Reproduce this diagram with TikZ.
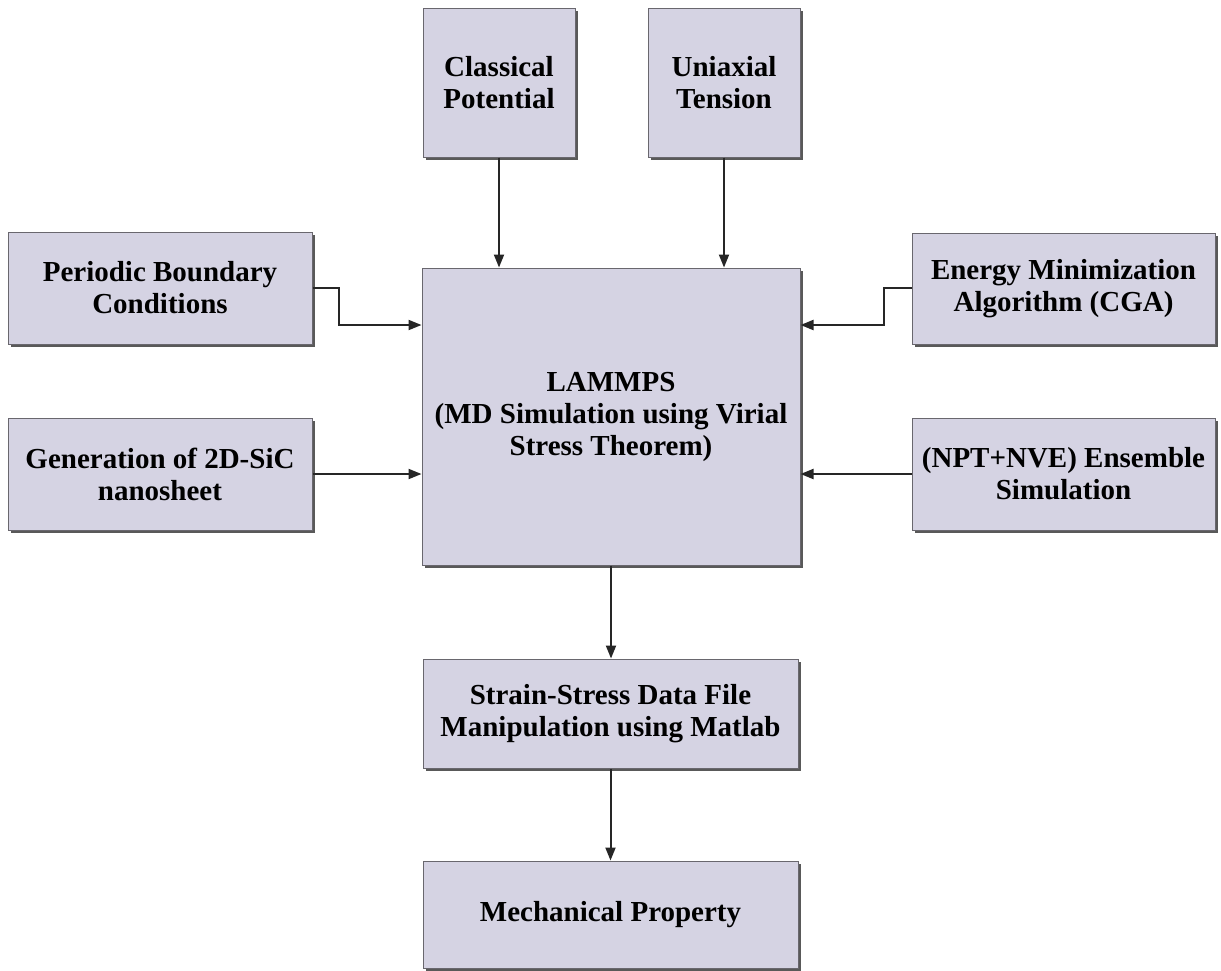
\documentclass[tikz,border=0pt]{standalone}
\usepackage{fontspec}
\setmainfont{Liberation Serif}
\usetikzlibrary{arrows.meta,shadows}
\definecolor{boxfill}{RGB}{213,211,227}
\definecolor{boxline}{RGB}{105,103,110}
\tikzset{
  blk/.style={draw=boxline, line width=1pt, fill=boxfill, inner sep=0pt,
    align=center, font=\fontsize{29}{32}\selectfont\bfseries,
    drop shadow={shadow xshift=2.5pt, shadow yshift=-2.5pt, fill=black!65, opacity=1}},
  arr/.style={draw=black!85, line width=2pt, -{Triangle[length=13pt,width=10pt]}}
}
\begin{document}
\begin{tikzpicture}[x=1pt,y=-1pt]
\useasboundingbox (0,0) rectangle (1221,970);
\fill[white] (0,0) rectangle (1221,970);

\node[blk, minimum width=152pt, minimum height=149pt] (cp)  at (499,82.5)   {Classical\\Potential};
\node[blk, minimum width=152pt, minimum height=149pt] (ut)  at (724,82.5)   {Uniaxial\\Tension};
\node[blk, minimum width=304pt, minimum height=112pt] (pbc) at (160,288)    {Periodic Boundary\\Conditions};
\node[blk, minimum width=304pt, minimum height=112pt] (gen) at (160,474)    {Generation of 2D-SiC\\nanosheet};
\node[blk, minimum width=303pt, minimum height=111pt] (em)  at (1063.5,288.5) {Energy Minimization\\Algorithm (CGA)};
\node[blk, minimum width=303pt, minimum height=112pt] (npt) at (1063.5,474) {(NPT+NVE) Ensemble\\Simulation};
\node[blk, minimum width=378pt, minimum height=297pt] (lam) at (611,416.5)  {LAMMPS\\(MD Simulation using Virial\\Stress Theorem)};
\node[blk, minimum width=375pt, minimum height=109pt] (ss)  at (610.5,713.5) {Strain-Stress Data File\\Manipulation using Matlab};
\node[blk, minimum width=375pt, minimum height=107pt] (mp)  at (610.5,914.5) {Mechanical Property};

% inputs from above
\draw[arr] (cp.south) -- (cp.south |- lam.north);
\draw[arr] (ut.south) -- (ut.south |- lam.north);
% inputs from the left
\draw[arr] (pbc.east) -- ++(26,0) |- ([yshift=91.5pt]lam.west);
\draw[arr] (gen.east) -- (gen.east -| lam.west);
% inputs from the right
\draw[arr] ([yshift=0.5pt]em.west) -- ++(-28,0) |- ([yshift=91.5pt]lam.east);
\draw[arr] (npt.west) -- (npt.west -| lam.east);
% outputs
\draw[arr] (lam.south) -- (lam.south |- ss.north);
\draw[arr] (ss.south) -- (mp.north);
\end{tikzpicture}
\end{document}
